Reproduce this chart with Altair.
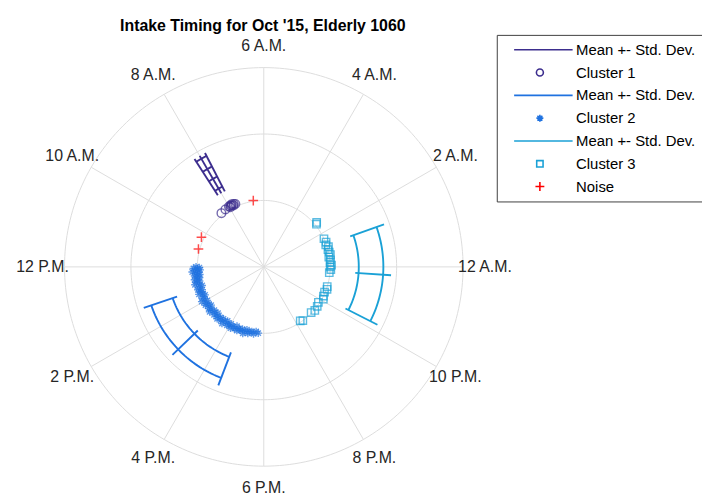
import numpy as np
import pandas as pd
import altair as alt

# ---------------- data ----------------
label_hours = [0, 2, 4, 6, 8, 10, 12, 14, 16, 18, 20, 22]
hour_labels = ["12 A.M.", "2 A.M.", "4 A.M.", "6 A.M.", "8 A.M.", "10 A.M.",
               "12 P.M.", "2 P.M.", "4 P.M.", "6 P.M.", "8 P.M.", "10 P.M."]
ring_radii = [1, 2, 3]

series_names = ["Mean +- Std. Dev.", "Cluster 1", "Mean +- Std. Dev. ", "Cluster 2",
                "Mean +- Std. Dev.  ", "Cluster 3", "Noise"]
series_colors = ["#3D2E8E", "#3D2E8E", "#1F72E0", "#1F72E0", "#1AA1D6", "#1AA1D6", "#FF0000"]

# cluster 1 (circles)
c1_hours = [7.62, 7.70, 7.75, 7.80, 7.85, 7.90, 7.95, 8.00, 8.25, 8.55]
c1_radius = [1.04, 1.05, 1.03, 1.06, 1.04, 1.05, 1.03, 1.05, 1.04, 1.03]

# cluster 2 (asterisks)
c2_hours = [12.00, 12.04, 12.08, 12.13, 12.18, 12.22, 12.27, 12.33, 12.38, 12.45,
            12.50, 12.56, 12.63, 12.70, 12.76, 12.83, 12.90, 12.97, 13.05, 13.12,
            13.20, 13.28, 13.36, 13.45, 13.53, 13.60, 13.70, 13.80, 13.88, 13.95,
            14.05, 14.15, 14.22, 14.30, 14.40, 14.48, 14.57, 14.65, 14.75, 14.85,
            14.93, 15.02, 15.12, 15.20, 15.30, 15.40, 15.48, 15.57, 15.66, 15.75,
            15.85, 15.93, 16.02, 16.10, 16.20, 16.30, 16.38, 16.47, 16.56, 16.65,
            16.74, 16.83, 16.92, 17.00, 17.10, 17.20, 17.30, 17.42, 17.55, 17.68]
c2_radius = [1.02, 0.97, 1.06, 1.00, 0.96, 1.04, 1.08, 0.99, 1.03, 0.97,
             1.05, 1.01, 0.98, 1.06, 1.02, 0.99, 1.04, 1.07, 1.00, 0.97,
             1.03, 1.05, 0.99, 1.02, 1.06, 1.00, 0.98, 1.04, 1.01, 1.07,
             0.99, 1.03, 1.05, 1.00, 0.98, 1.04, 1.02, 1.06, 0.99, 1.01,
             1.04, 0.98, 1.02, 1.05, 1.00, 1.03, 0.99, 1.06, 1.01, 0.98,
             1.04, 1.02, 0.99, 1.05, 1.01, 1.03, 0.98, 1.04, 1.00, 1.02,
             0.99, 1.05, 1.01, 0.98, 1.03, 1.00, 0.99, 1.02, 0.98, 1.00]

# cluster 3 (squares)
c3_hours = [2.67, 2.60, 1.67, 1.45, 1.30, 1.16, 1.00, 0.85, 0.70, 0.57,
            0.40, 0.25, 0.10, 0.00, 23.85, 23.66, 22.85, 22.70, 22.50, 22.26,
            22.10, 21.80, 21.57, 21.30, 21.07, 20.40, 20.27]
c3_radius = [1.04, 1.02, 1.00, 1.01, 0.99, 1.02, 1.00, 1.01, 1.02, 0.99,
             1.01, 1.00, 1.02, 1.00, 1.01, 0.99, 1.00, 1.01, 0.99, 1.00,
             1.02, 0.98, 1.00, 1.01, 0.99, 1.00, 0.98]

# noise (plus)
noise_hours = [6.60, 10.30, 10.98]
noise_radius = [1.01, 1.04, 1.02]

# mean +- std ladders
mean_hours = [8.00, 14.93, 23.75]
std_hours = [0.18, 1.67, 1.55]
spoke_inner = [1.28, 1.38, 1.38]
spoke_outer = [1.93, 1.91, 1.92]
arc_radii = [[1.36, 1.53, 1.70, 1.88], [1.45, 1.79], [1.43, 1.80]]
mean_series = [series_names[0], series_names[2], series_names[4]]


# ---------------- geometry helpers ----------------
def polar(hours, radius):
    a = np.deg2rad(np.asarray(hours, dtype=float) * 15.0)
    r = np.asarray(radius, dtype=float)
    return r * np.cos(a), r * np.sin(a)


# grid
grid_rows = []
gid = 0
circ_h = np.linspace(0, 24, 241)
for rr in ring_radii:
    gx, gy = polar(circ_h, np.full_like(circ_h, rr))
    for i, (a, b) in enumerate(zip(gx, gy)):
        grid_rows.append({"g": gid, "i": i, "x": a, "y": b})
    gid += 1
for h in label_hours:
    gx, gy = polar([h, h], [0, ring_radii[-1]])
    for i, (a, b) in enumerate(zip(gx, gy)):
        grid_rows.append({"g": gid, "i": i, "x": a, "y": b})
    gid += 1
grid_df = pd.DataFrame(grid_rows)

# angular labels
lx, ly = polar(label_hours, [3.33] * len(label_hours))
lab_df = pd.DataFrame({"x": lx, "y": ly, "t": hour_labels})

# ladders
lad_rows = []
sid = 0
for m, s, r0, r1, arcs, ser in zip(mean_hours, std_hours, spoke_inner, spoke_outer, arc_radii, mean_series):
    for h in (m - s, m, m + s):
        px, py = polar([h, h], [r0, r1])
        for i, (a, b) in enumerate(zip(px, py)):
            lad_rows.append({"seg": sid, "i": i, "x": a, "y": b, "series": ser})
        sid += 1
    hh = np.linspace(m - s, m + s, 40)
    for ar in arcs:
        px, py = polar(hh, np.full_like(hh, ar))
        for i, (a, b) in enumerate(zip(px, py)):
            lad_rows.append({"seg": sid, "i": i, "x": a, "y": b, "series": ser})
        sid += 1
lad_df = pd.DataFrame(lad_rows)


def pts(hours, radius, ser):
    px, py = polar(hours, radius)
    return pd.DataFrame({"x": px, "y": py, "series": ser})


c1_df = pts(c1_hours, c1_radius, series_names[1])
c2_df = pts(c2_hours, c2_radius, series_names[3])
c3_df = pts(c3_hours, c3_radius, series_names[5])
noise_df = pts(noise_hours, noise_radius, series_names[6])
legend_df = pd.DataFrame({"series": series_names})

# ---------------- scales ----------------
W, H = 700, 490
unit = 67.0
cx, cy = 258.0, 259.0
xdom = [-cx / unit, (W - cx) / unit]
ydom = [-(H - cy) / unit, cy / unit]
xs = alt.Scale(domain=xdom, nice=False, zero=False)
ys = alt.Scale(domain=ydom, nice=False, zero=False)
X = alt.X("x:Q", scale=xs, axis=None)
Y = alt.Y("y:Q", scale=ys, axis=None)
cscale = alt.Scale(domain=series_names, range=series_colors)

# legend symbol paths (big symbol box, items drawn inside)
legend_paths = [
    "M-0.726,0H1.022",
    "M0.148,0A0.104,0.104 0 1,1 -0.06,0A0.104,0.104 0 1,1 0.148,0Z",
    "M-0.726,0H1.022",
    "M-0.06,0H0.148M0.044,-0.104V0.104M-0.03,-0.074L0.118,0.074M-0.03,0.074L0.118,-0.074",
    "M-0.726,0H1.022",
    "M-0.051,-0.095H0.139V0.095H-0.051Z",
    "M-0.089,0H0.177M0.044,-0.133V0.133",
]

leg = alt.Legend(orient="none", legendX=493, legendY=25, title=None, padding=7,
                 strokeColor="#404040", fillColor="white",
                 labelFont="Liberation Sans", labelFontSize=15, labelColor="#000000",
                 symbolSize=4556, symbolStrokeWidth=1.6, symbolOpacity=1,
                 labelOffset=3, rowPadding=7, clipHeight=16, labelLimit=300)

legend_layer = alt.Chart(legend_df).mark_point(filled=False, opacity=0).encode(
    color=alt.Color("series:N", scale=cscale, legend=leg),
    shape=alt.Shape("series:N", scale=alt.Scale(domain=series_names, range=legend_paths), legend=leg))

grid = alt.Chart(grid_df).mark_line(color="#DDDDDD", strokeWidth=1).encode(
    x=X, y=Y, detail="g:N", order="i:Q")

labels = alt.Chart(lab_df).mark_text(font="Liberation Sans", fontSize=16, color="#262626",
                                     align="center", baseline="middle").encode(
    x=X, y=Y, text="t:N")

ladders = alt.Chart(lad_df).mark_line(strokeWidth=1.9).encode(
    x=X, y=Y, detail="seg:N", order="i:Q",
    color=alt.Color("series:N", scale=cscale, legend=None))

circle_path = "M1,0A1,1 0 1,1 -1,0A1,1 0 1,1 1,0Z"
star_path = "M-1,0H1M0,-1V1M-0.7,-0.7L0.7,0.7M-0.7,0.7L0.7,-0.7"
square_path = "M-1,-1H1V1H-1Z"
plus_path = "M-1,0H1M0,-1V1"


def point_layer(df, shape, size, sw=1.4):
    return alt.Chart(df).mark_point(filled=False, strokeWidth=sw).encode(
        x=X, y=Y,
        color=alt.Color("series:N", scale=cscale, legend=None),
        shape=alt.value(shape), size=alt.value(size))


p1 = point_layer(c1_df, circle_path, 75)
p2 = point_layer(c2_df, star_path, 60)
p3 = point_layer(c3_df, square_path, 55)
p4 = point_layer(noise_df, plus_path, 95, 1.5)

chart = alt.layer(legend_layer, grid, labels, ladders, p1, p2, p3, p4).properties(
    width=W, height=H,
    autosize=alt.AutoSizeParams(type="none"),
    padding={"left": 0, "top": 0, "right": 0, "bottom": 0},
    title=alt.TitleParams("Intake Timing for Oct '15, Elderly 1060", font="Liberation Sans",
                          fontSize=16, fontWeight="bold", color="#000000",
                          anchor="middle", dx=-93, offset=-24),
    background="white",
).configure_view(stroke=None)

chart.save("out.html", embed_options={"renderer": "svg", "actions": False})
